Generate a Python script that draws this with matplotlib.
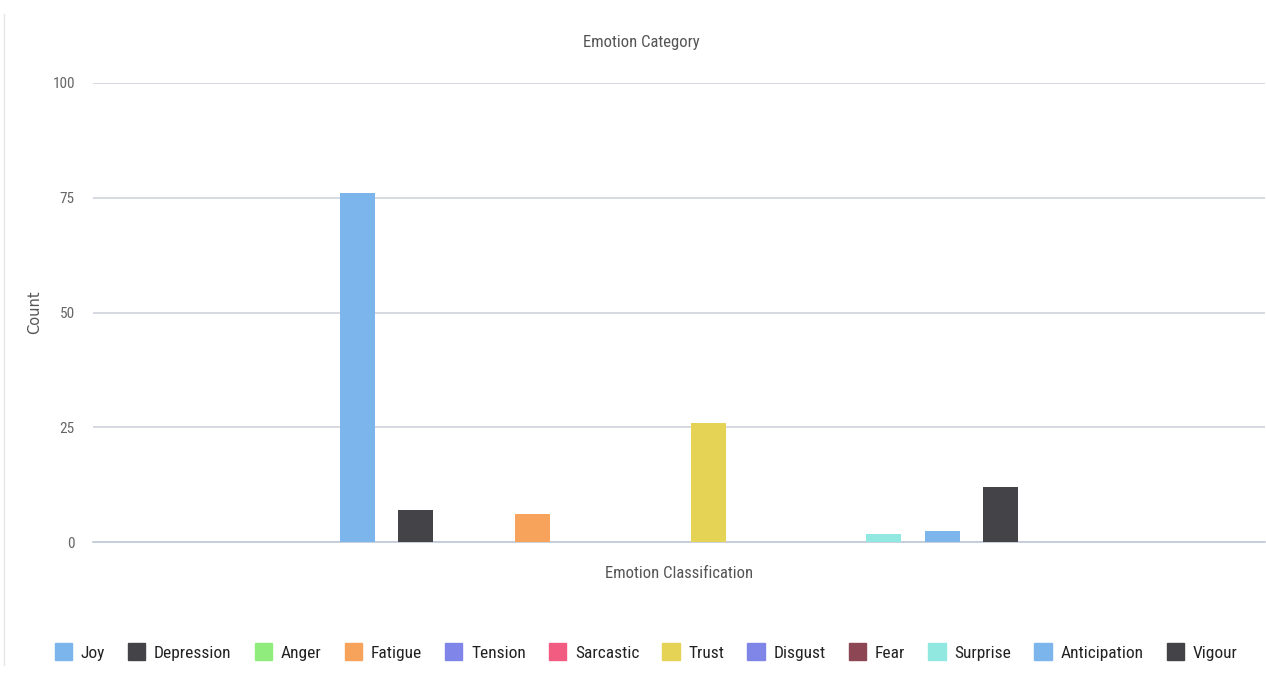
import matplotlib

matplotlib.use("Agg")
import matplotlib.pyplot as plt
from matplotlib import font_manager
from matplotlib.patches import Patch
import numpy as np


EMOTIONS = ["Joy", "Depression", "Anger", "Fatigue", "Tension", "Sarcastic",
            "Trust", "Disgust", "Fear", "Surprise", "Anticipation", "Vigour"]
COUNTS = [76, 7, 0, 6, 0, 0, 26, 0, 0, 1.7, 2.5, 12]
COLORS = ["#7cb5ec", "#434348", "#90ed7d", "#f7a35c", "#8085e9", "#f15c80",
          "#e4d354", "#8085e8", "#8d4653", "#91e8e1", "#7cb5ec", "#434348"]
Y_TICKS = [0, 25, 50, 75, 100]


def pick_font():
    names = {f.name for f in font_manager.fontManager.ttflist}
    for name in ["Liberation Sans Narrow", "Roboto Condensed", "Roboto", "DejaVu Sans"]:
        if name in names:
            return name
    return "DejaVu Sans"


def main():
    narrow = pick_font()
    plt.rcParams["font.family"] = [narrow, "DejaVu Sans"]

    fig = plt.figure(figsize=(12.66, 6.79), dpi=100)
    ax = fig.add_axes([93 / 1266, 1 - 542 / 679, 1172 / 1266, 459 / 679])

    n = len(EMOTIONS)
    step = 0.0499
    offsets = (np.arange(n) - (n - 1) / 2) * step
    for off, val, col in zip(offsets, COUNTS, COLORS):
        ax.bar(off, val, width=0.03, color=col, zorder=3)

    ax.set_xlim(-0.5, 0.5)
    ax.set_ylim(0, 100)
    ax.set_yticks(Y_TICKS)
    ax.set_xticks([])
    ax.grid(axis="y", color="#d0d4dc", linewidth=1.2, zorder=0)
    for side in ["top", "right", "left"]:
        ax.spines[side].set_visible(False)
    ax.spines["bottom"].set_color("#c0c8d8")
    ax.spines["bottom"].set_linewidth(1.2)
    ax.tick_params(axis="y", length=0, labelsize=11, labelcolor="#666666", pad=13)

    fig.text(35 / 1266, 1 - 312 / 679, "Count", rotation=90, ha="center",
             va="center", fontsize=10.5, color="#555555", family="DejaVu Sans")
    fig.text(641 / 1266, 1 - 42 / 679, "Emotion Category", ha="center",
             va="center", fontsize=12, color="#555555")
    fig.text(679 / 1266, 1 - 573 / 679, "Emotion Classification", ha="center",
             va="center", fontsize=12, color="#555555")

    handles = [Patch(facecolor=c, edgecolor=c) for c in COLORS]
    fig.legend(handles, EMOTIONS, loc="center", bbox_to_anchor=(646 / 1266, 1 - 652 / 679),
               ncol=n, frameon=False, fontsize=12.5, handlelength=1.0, handleheight=1.1,
               handletextpad=0.5, columnspacing=1.33, labelcolor="#222222")

    fig.add_artist(plt.Line2D([4 / 1266, 4 / 1266], [0.02, 0.98], color="#e6e6e6",
                              linewidth=1.0, transform=fig.transFigure))

    fig.savefig("out.png", dpi=100)
    plt.close(fig)


if __name__ == "__main__":
    main()
